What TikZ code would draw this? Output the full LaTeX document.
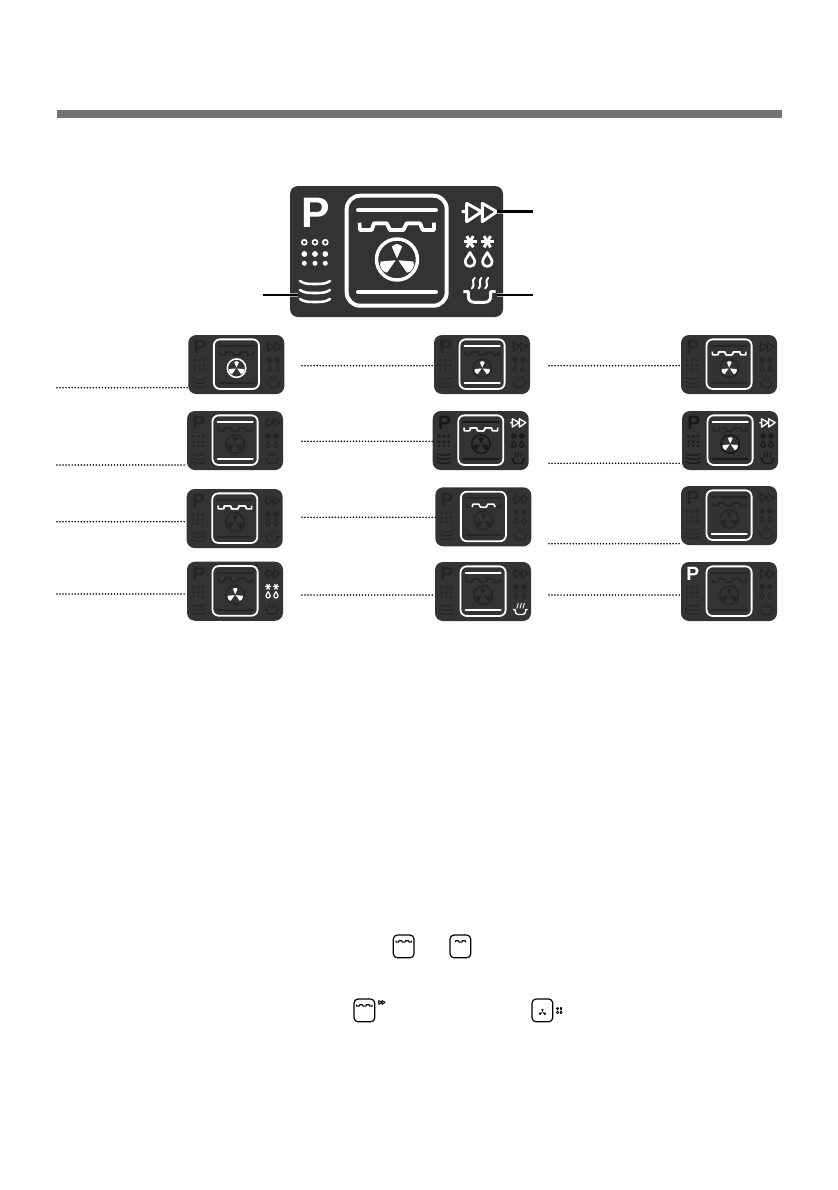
\documentclass[tikz,border=0pt]{standalone}
\usepackage{fontspec}
\setmainfont{Liberation Sans}
\definecolor{panelc}{HTML}{333333}
\definecolor{dimc}{HTML}{262626}
\definecolor{barc}{HTML}{737373}
\tikzset{
  dimpart/.style={color=dimc},
  pP/.style={dimpart}, pDots/.style={dimpart}, pWaves/.style={dimpart},
  pTop/.style={dimpart}, pHeat/.style={dimpart}, pCore/.style={pHeat},
  pRing/.style={dimpart}, pBlades/.style={dimpart}, pBot/.style={dimpart},
  pArrows/.style={dimpart}, pSnow/.style={dimpart}, pPot/.style={dimpart},
  lit/.style={color=white},
  panelbox/.style={draw=none,fill=panelc,rounded corners=6pt,inner sep=0pt,
    minimum width=159.75pt,minimum height=98.25pt,transform shape},
  dotline/.style={black,line width=1.3pt,line cap=round,dash pattern=on 0pt off 2.27pt},
  leader/.style={black,line width=2pt},
  halo/.style={color=black!35,line width=2.8pt},
  round/.style={line cap=round,line join=round},
}
% every part of the display, in the panel's own pixels
\newcommand{\pFrame}[1]{\draw[#1,round,line width=\sc*3pt,rounded corners=\sc*10pt] (56.7,9.7) rectangle (156.7,119.7);}
\newcommand{\pTopBar}{\draw[pTop,round,line width=\sc*3pt] (68,24.3) -- (146,24.3);}
\newcommand{\pBotBar}{\draw[pBot,round,line width=\sc*3pt] (68,106.3) -- (146,106.3);}
\newcommand{\pHeater}{\draw[pHeat,line join=round,line width=\sc*2.7pt] (69.5,36.7) -- (70,44) -- (81.7,44) -- (84,37.3) -- (96.7,37.3) -- (100,44) -- (113.3,44) -- (116.7,37.3) -- (130,37.3) -- (132.7,44) -- (144,44) -- (144,36.7);}
\newcommand{\pHeatCore}{\draw[pCore,line join=round,line width=\sc*2.7pt] (81.7,44) -- (84,37.3) -- (96.7,37.3) -- (100,44) -- (113.3,44) -- (116.7,37.3) -- (130,37.3) -- (132.7,44);}
\newcommand{\pFanRing}{\draw[pRing,line width=\sc*2.6pt] (107,73.5) circle (20.5);}
\newcommand{\pFanBlades}{\begin{scope}[shift={(107,73.5)}]
  \fill[pBlades,round] (270:1) -- (248:14) -- (260:15) -- (270:15.4) -- (280:15) -- (292:14) -- cycle;
  \foreach \a in {30,150}{
    \fill[pBlades,round] (\a:1.5) -- (\a-23:16.5) -- (\a-12:17.8) -- (\a:18.2) -- (\a+12:17.8) -- (\a+23:16.5) -- cycle;}
  \end{scope}}
\newcommand{\pArrowIcon}{\draw[pArrows,line join=round,line width=\sc*2.2pt] (171.7,25.7) -- (176.7,25.7) (176.7,17.3) -- (176.7,35.7) -- (191.7,25.7) -- cycle (192.3,17.3) -- (192.3,35.7) -- (206.7,25.7) -- cycle;}
\newcommand{\pDrop}[1]{\draw[pSnow,line join=round,line width=\sc*2pt,shift={(#1,0)}] (0,66.5) .. controls (-1,70) and (-4.7,72) .. (-4.7,75.5) .. controls (-4.7,78.7) and (-2.5,80.5) .. (0,80.5) .. controls (2.5,80.5) and (4.7,78.7) .. (4.7,75.5) .. controls (4.7,72) and (1,70) .. (0,66.5) -- cycle;}
\newcommand{\pStar}[1]{\begin{scope}[shift={(#1,55.7)}]
  \foreach \a in {0,60,120}{\draw[pSnow,line width=\sc*2.2pt] (\a:-6.5) -- (\a:6.5);}
  \end{scope}}
\newcommand{\pSnowIcon}{\pStar{180}\pStar{197.3}\pDrop{180}\pDrop{197.3}}
\newcommand{\pSteam}[1]{\draw[pPot,round,line width=\sc*1.5pt,shift={(#1,0)}] (1.5,91.8) .. controls (-3,95) and (3,99) .. (-1.5,102.5);}
\newcommand{\pPotIcon}{\draw[pPot,line join=round,line width=\sc*2.2pt] (173.3,105.7) -- (178.3,105.7) -- (178.3,110) .. controls (178.3,114) and (180.5,116.3) .. (184.5,116.3) -- (194.5,116.3) .. controls (198.5,116.3) and (200.7,114) .. (200.7,110) -- (200.7,105.7) -- (205.5,105.7);
  \pSteam{183.3}\pSteam{190}\pSteam{196.7}}
\newcommand{\pWaveLine}[1]{\draw[pWaves,line cap=round,line width=\sc*1.9pt,shift={(0,#1)}] (10,0) .. controls (14,2.6) and (17,3) .. (25,3) .. controls (33,3) and (36,2.6) .. (40,0);}
\newcommand{\pDotIcon}{
  \foreach \x in {14.3,25,35.3}{
    \draw[pDots,line width=\sc*1.2pt] (\x,56.3) circle (2.5);
    \fill[pDots] (\x,68) circle (2.9);
    \fill[pDots] (\x,77.3) circle (2.5);}}
% #1 name, #2 #3 top left, #4 scale, #5 part states
\newcommand{\displaypanel}[5]{
  \begin{scope}[shift={(#2,#3)},scale=#4,#5]
    \def\sc{#4}
    \node[panelbox] (#1) at (106.5,65.5) {};
    \node[pP,transform shape,inner sep=0pt,font=\fontsize{32pt}{32pt}\selectfont\bfseries] (#1P) at (26,27) {P};
    \pDotIcon
    \pWaveLine{95}\pWaveLine{104}\pWaveLine{113}
    \pTopBar \pBotBar \pHeater \pHeatCore \pFanRing \pFanBlades
    \pFrame{white}
    \pArrowIcon \pSnowIcon \pPotIcon
  \end{scope}}
\newcommand{\miniscope}[3]{\begin{scope}[shift={(#1,#2)},scale=.207,pHeat/.style={color=black},pCore/.style={color=black},pBlades/.style={color=black},pArrows/.style={color=black},pSnow/.style={color=black}]
  \def\sc{.3}
  \pFrame{black}
  #3
  \end{scope}}
\begin{document}
\begin{tikzpicture}[x=.75pt,y=-.75pt]
\useasboundingbox (0,0) rectangle (838,1190);
\fill[white] (0,0) rectangle (838,1190);
\node[fill=barc,inner sep=0pt,minimum width=543.75pt,minimum height=6pt] (rule) at (419.5,114) {};

\displaypanel{main}{290}{186}{1}{dimpart/.style={lit}}
% leaders of the big display
\coordinate (lw) at (262.7,295);
\coordinate (iw) at (298,295);
\coordinate (ra) at (532.7,211.7);
\coordinate (ia) at (496.7,211.7);
\coordinate (rp) at (532.7,295);
\coordinate (ip) at (496.7,295);
\draw[halo] (iw) -- (iw -| main.west);
\draw[halo] (ia) -- (ia -| main.east);
\draw[halo] (ip) -- (ip -| main.east);
\draw[leader] (lw) -- (iw);
\draw[leader] (ra) -- (ia);
\draw[leader] (rp) -- (ip);

\displaypanel{a}{188.3}{335}{.4507}{pRing/.style={lit},pBlades/.style={lit}}
\displaypanel{b}{187}{411}{.4507}{pTop/.style={lit},pBot/.style={lit}}
\displaypanel{c}{186.7}{489}{.4507}{pHeat/.style={lit}}
\displaypanel{d}{187}{561.7}{.4507}{pBlades/.style={lit},pSnow/.style={lit}}
\displaypanel{e}{434}{335}{.4507}{pTop/.style={lit},pBot/.style={lit},pBlades/.style={lit}}
\displaypanel{f}{432.7}{411}{.4507}{dimpart/.style={color=black!90},pHeat/.style={lit},pArrows/.style={lit}}
\displaypanel{g}{435.3}{487.3}{.4507}{pCore/.style={lit}}
\displaypanel{h}{435}{562}{.4507}{pTop/.style={lit},pBot/.style={lit},pPot/.style={lit}}
\displaypanel{i}{681}{335}{.4507}{pHeat/.style={lit},pBlades/.style={lit}}
\displaypanel{j}{682}{411}{.4507}{dimpart/.style={color=black!90},pHeat/.style={color=dimc},pTop/.style={lit},pBlades/.style={lit},pArrows/.style={lit}}
\displaypanel{k}{681}{486}{.4507}{pBot/.style={lit}}
\displaypanel{l}{681}{562}{.4507}{pP/.style={lit}}

\coordinate (da) at (57,387.7);  \draw[dotline] (da) -- (da -| a.west);
\coordinate (db) at (57,465);    \draw[dotline] (db) -- (db -| b.west);
\coordinate (dc) at (57,521.7);  \draw[dotline] (dc) -- (dc -| c.west);
\coordinate (dd) at (57,594);    \draw[dotline] (dd) -- (dd -| d.west);
\coordinate (de) at (302,365.7); \draw[dotline] (de) -- (de -| e.west);
\coordinate (df) at (302,441.3); \draw[dotline] (df) -- (df -| f.west);
\coordinate (dg) at (302,517.3); \draw[dotline] (dg) -- (dg -| g.west);
\coordinate (dh) at (302,595);   \draw[dotline] (dh) -- (dh -| h.west);
\coordinate (di) at (549,365.7); \draw[dotline] (di) -- (di -| i.west);
\coordinate (dj) at (549,463.3); \draw[dotline] (dj) -- (dj -| j.west);
\coordinate (dk) at (549,543.7); \draw[dotline] (dk) -- (dk -| k.west);
\coordinate (dl) at (549,595);   \draw[dotline] (dl) -- (dl -| l.west);

\miniscope{381.6}{933}{\pHeater}
\miniscope{438.3}{933}{\pHeatCore}
\miniscope{342.3}{997}{\pHeater\pArrowIcon}
\miniscope{520.3}{997}{\pFanBlades\pSnowIcon}
\end{tikzpicture}
\end{document}
